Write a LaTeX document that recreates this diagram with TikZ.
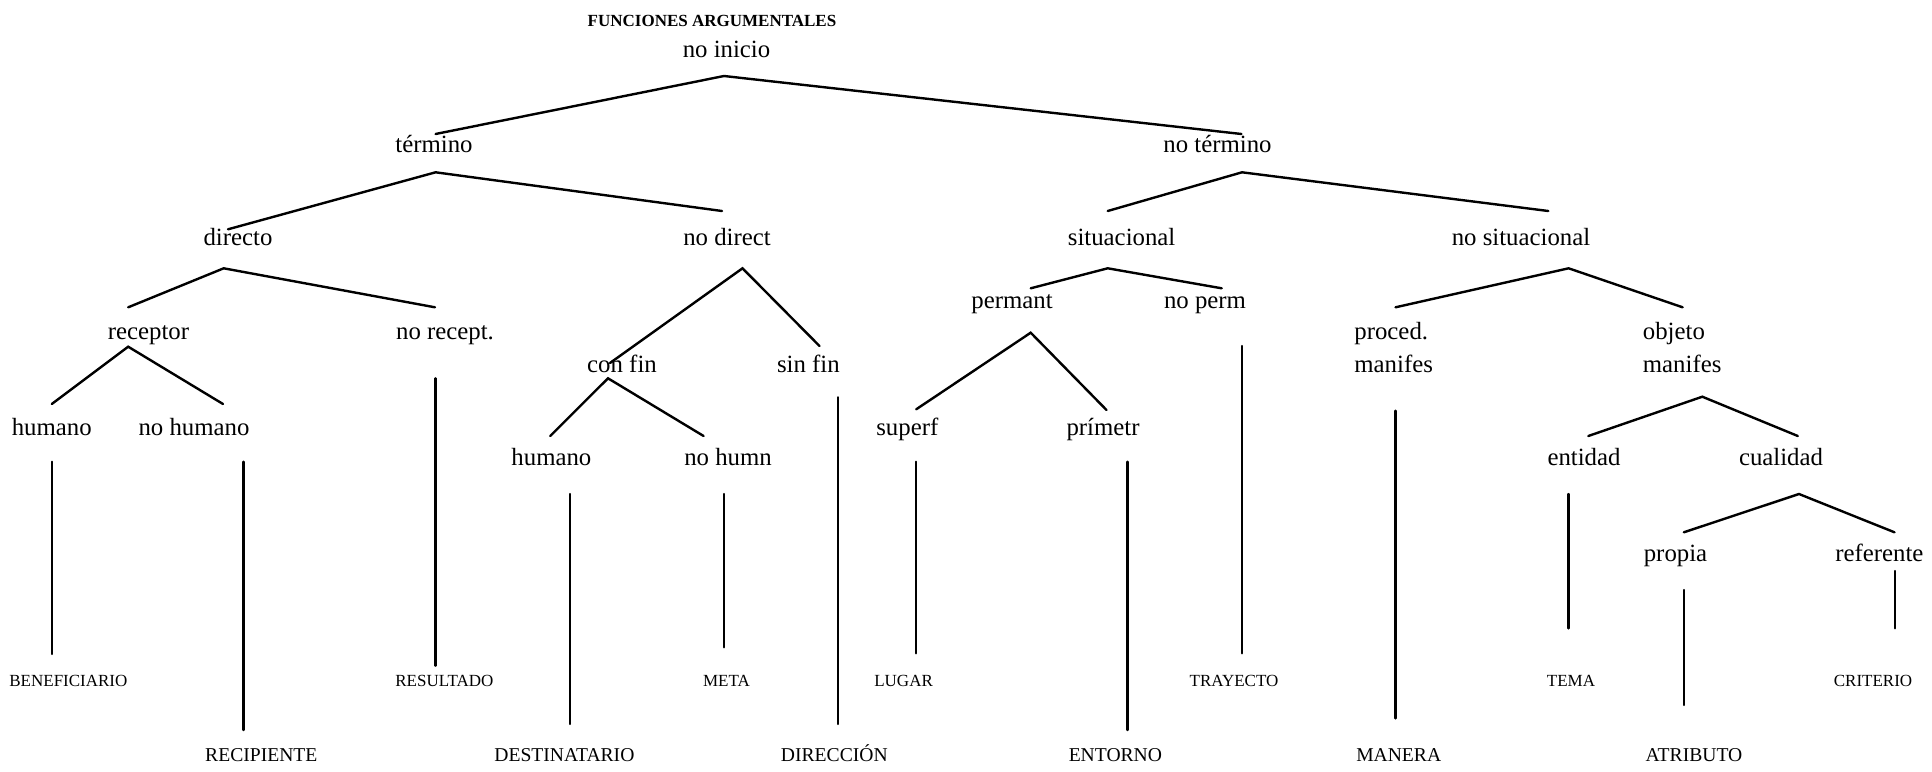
\documentclass[tikz,border=0pt]{standalone}
\usepackage{fontspec}
\setmainfont{Liberation Serif}
\begin{document}
\begin{tikzpicture}[x=0.5pt,y=-0.5pt,
  lbl/.style={inner sep=0pt, anchor=base, font=\fontsize{12.4}{16.5}\selectfont},
  lbl2/.style={inner sep=0pt, anchor=base west, align=left, font=\fontsize{12.4}{16.5}\selectfont},
  sml/.style={inner sep=0pt, anchor=base, font=\fontsize{8.5}{10}\selectfont},
  btm/.style={inner sep=0pt, anchor=base, font=\fontsize{9.8}{12}\selectfont},
  ttl/.style={inner sep=0pt, anchor=base, font=\bfseries\fontsize{8.5}{10}\selectfont},
  br/.style={line width=1.2pt, line cap=round}]
\useasboundingbox (0,0) rectangle (1932,771);
% texts
\node[ttl] (title) at (712,26.7) {FUNCIONES ARGUMENTALES};
\node[lbl] (noinicio) at (726.5,57.3) {no inicio};
\node[lbl] (termino) at (434,152) {término};
\node[lbl] (notermino) at (1217.5,152) {no término};
\node[lbl] (directo) at (238,245.7) {directo};
\node[lbl] (nodirect) at (727,245.7) {no direct};
\node[lbl] (situacional) at (1121.6,245.7) {situacional};
\node[lbl] (nosituacional) at (1521,245.7) {no situacional};
\node[lbl] (receptor) at (148.5,339) {receptor};
\node[lbl] (norecept) at (445,339) {no recept.};
\node[lbl] (permant) at (1012,308.3) {permant};
\node[lbl] (noperm) at (1205,308.3) {no perm};
\node[lbl2] (proced) at (1354,372) {proced.\\manifes};
\node[lbl2] (objeto) at (1642.5,372) {objeto\\manifes};
\node[lbl] (confin) at (622,372) {con fin};
\node[lbl] (sinfin) at (808.4,372) {sin fin};
\node[lbl] (humanoA) at (51.7,435) {humano};
\node[lbl] (nohumano) at (194,435) {no humano};
\node[lbl] (superf) at (907.3,435) {superf};
\node[lbl] (primetr) at (1103,435) {prímetr};
\node[lbl] (humanoB) at (551.4,465.3) {humano};
\node[lbl] (nohumn) at (728,465.3) {no humn};
\node[lbl] (entidad) at (1584,465.3) {entidad};
\node[lbl] (cualidad) at (1781,465.3) {cualidad};
\node[lbl] (propia) at (1675.5,561) {propia};
\node[lbl] (referente) at (1879.4,561) {referente};
\node[sml] (benef) at (68.4,686.7) {BENEFICIARIO};
\node[sml] (result) at (444.4,686.7) {RESULTADO};
\node[sml] (meta) at (726.5,686.7) {META};
\node[sml] (lugar) at (903.6,686.7) {LUGAR};
\node[sml] (trayecto) at (1234,686.7) {TRAYECTO};
\node[sml] (tema) at (1571,686.7) {TEMA};
\node[sml] (criterio) at (1873,686.7) {CRITERIO};
\node[btm] (recip) at (261.3,761.7) {RECIPIENTE};
\node[btm] (destin) at (564.4,761.7) {DESTINATARIO};
\node[btm] (direcc) at (834.3,761.7) {DIRECCIÓN};
\node[btm] (entorno) at (1115.4,761.7) {ENTORNO};
\node[btm] (manera) at (1398.7,761.7) {MANERA};
\node[btm] (atrib) at (1694,761.7) {ATRIBUTO};
% branch coordinates
\coordinate (noinicio-s) at (724,76);
\coordinate (termino-n) at (435.6,134);
\coordinate (notermino-n) at (1241.4,134);
\coordinate (termino-s) at (435.6,172.3);
\coordinate (directo-n) at (228,229.3);
\coordinate (nodirect-n) at (722,211);
\coordinate (notermino-s) at (1242,172.3);
\coordinate (situacional-n) at (1107.7,211);
\coordinate (nosituacional-n) at (1548.3,211);
\coordinate (directo-s) at (223.7,268.3);
\coordinate (receptor-n) at (128.2,307.3);
\coordinate (norecept-n) at (435,307.3);
\coordinate (nodirect-s) at (742.5,268.3);
\coordinate (confin-n) at (610,363);
\coordinate (sinfin-n) at (819.5,346);
\coordinate (situacional-s) at (1107.7,268.3);
\coordinate (permant-n) at (1030.7,288.3);
\coordinate (noperm-n) at (1221.7,288.3);
\coordinate (nosituacional-s) at (1568.6,268.3);
\coordinate (proced-n) at (1395.5,307.3);
\coordinate (objeto-n) at (1682.6,307.3);
\coordinate (receptor-s) at (128.2,346.7);
\coordinate (humanoA-n) at (51.8,404);
\coordinate (nohumano-n) at (223,404);
\coordinate (permant-s) at (1030.7,332.7);
\coordinate (superf-n) at (916.2,409.3);
\coordinate (primetr-n) at (1106.5,410);
\coordinate (confin-s) at (608,378.3);
\coordinate (humanoB-n) at (550.2,436);
\coordinate (nohumn-n) at (703.6,436);
\coordinate (objeto-s) at (1702.3,396.7);
\coordinate (entidad-n) at (1588.3,436);
\coordinate (cualidad-n) at (1797.8,436);
\coordinate (cualidad-s) at (1799,494);
\coordinate (propia-n) at (1683.8,532.3);
\coordinate (referente-n) at (1894.5,532.3);
% vertical coordinates
\coordinate (humanoA-s) at (51.8,461.7);
\coordinate (benef-n) at (51.8,654);
\coordinate (nohumano-s) at (243.4,461.7);
\coordinate (recip-n) at (243.4,730);
\coordinate (norecept-s) at (435.6,378.3);
\coordinate (result-n) at (435.6,665.7);
\coordinate (humanoB-s) at (570,494);
\coordinate (destin-n) at (570,724);
\coordinate (nohumn-s) at (724,494);
\coordinate (meta-n) at (724,647.3);
\coordinate (sinfin-s) at (838,397.3);
\coordinate (direcc-n) at (838,724);
\coordinate (superf-s) at (916.2,461.7);
\coordinate (lugar-n) at (916.2,653.3);
\coordinate (primetr-s) at (1127.4,461.7);
\coordinate (entorno-n) at (1127.4,730);
\coordinate (noperm-s) at (1242,346);
\coordinate (trayecto-n) at (1242,653.3);
\coordinate (proced-s) at (1395.5,410.7);
\coordinate (manera-n) at (1395.5,718.3);
\coordinate (entidad-s) at (1568.6,494);
\coordinate (tema-n) at (1568.6,628.3);
\coordinate (propia-s) at (1683.8,590);
\coordinate (atrib-n) at (1683.8,705);
\coordinate (referente-s) at (1895,571);
\coordinate (criterio-n) at (1895,628.3);
% branches
\draw[br] (termino-n) -- (noinicio-s) -- (notermino-n);
\draw[br] (directo-n) -- (termino-s) -- (nodirect-n);
\draw[br] (situacional-n) -- (notermino-s) -- (nosituacional-n);
\draw[br] (receptor-n) -- (directo-s) -- (norecept-n);
\draw[br] (confin-n) -- (nodirect-s) -- (sinfin-n);
\draw[br] (permant-n) -- (situacional-s) -- (noperm-n);
\draw[br] (proced-n) -- (nosituacional-s) -- (objeto-n);
\draw[br] (humanoA-n) -- (receptor-s) -- (nohumano-n);
\draw[br] (superf-n) -- (permant-s) -- (primetr-n);
\draw[br] (humanoB-n) -- (confin-s) -- (nohumn-n);
\draw[br] (entidad-n) -- (objeto-s) -- (cualidad-n);
\draw[br] (propia-n) -- (cualidad-s) -- (referente-n);
% verticals
\draw[br] (humanoA-s) -- (benef-n);
\draw[br] (nohumano-s) -- (recip-n);
\draw[br] (norecept-s) -- (result-n);
\draw[br] (humanoB-s) -- (destin-n);
\draw[br] (nohumn-s) -- (meta-n);
\draw[br] (sinfin-s) -- (direcc-n);
\draw[br] (superf-s) -- (lugar-n);
\draw[br] (primetr-s) -- (entorno-n);
\draw[br] (noperm-s) -- (trayecto-n);
\draw[br] (proced-s) -- (manera-n);
\draw[br] (entidad-s) -- (tema-n);
\draw[br] (propia-s) -- (atrib-n);
\draw[br] (referente-s) -- (criterio-n);
\end{tikzpicture}
\end{document}
